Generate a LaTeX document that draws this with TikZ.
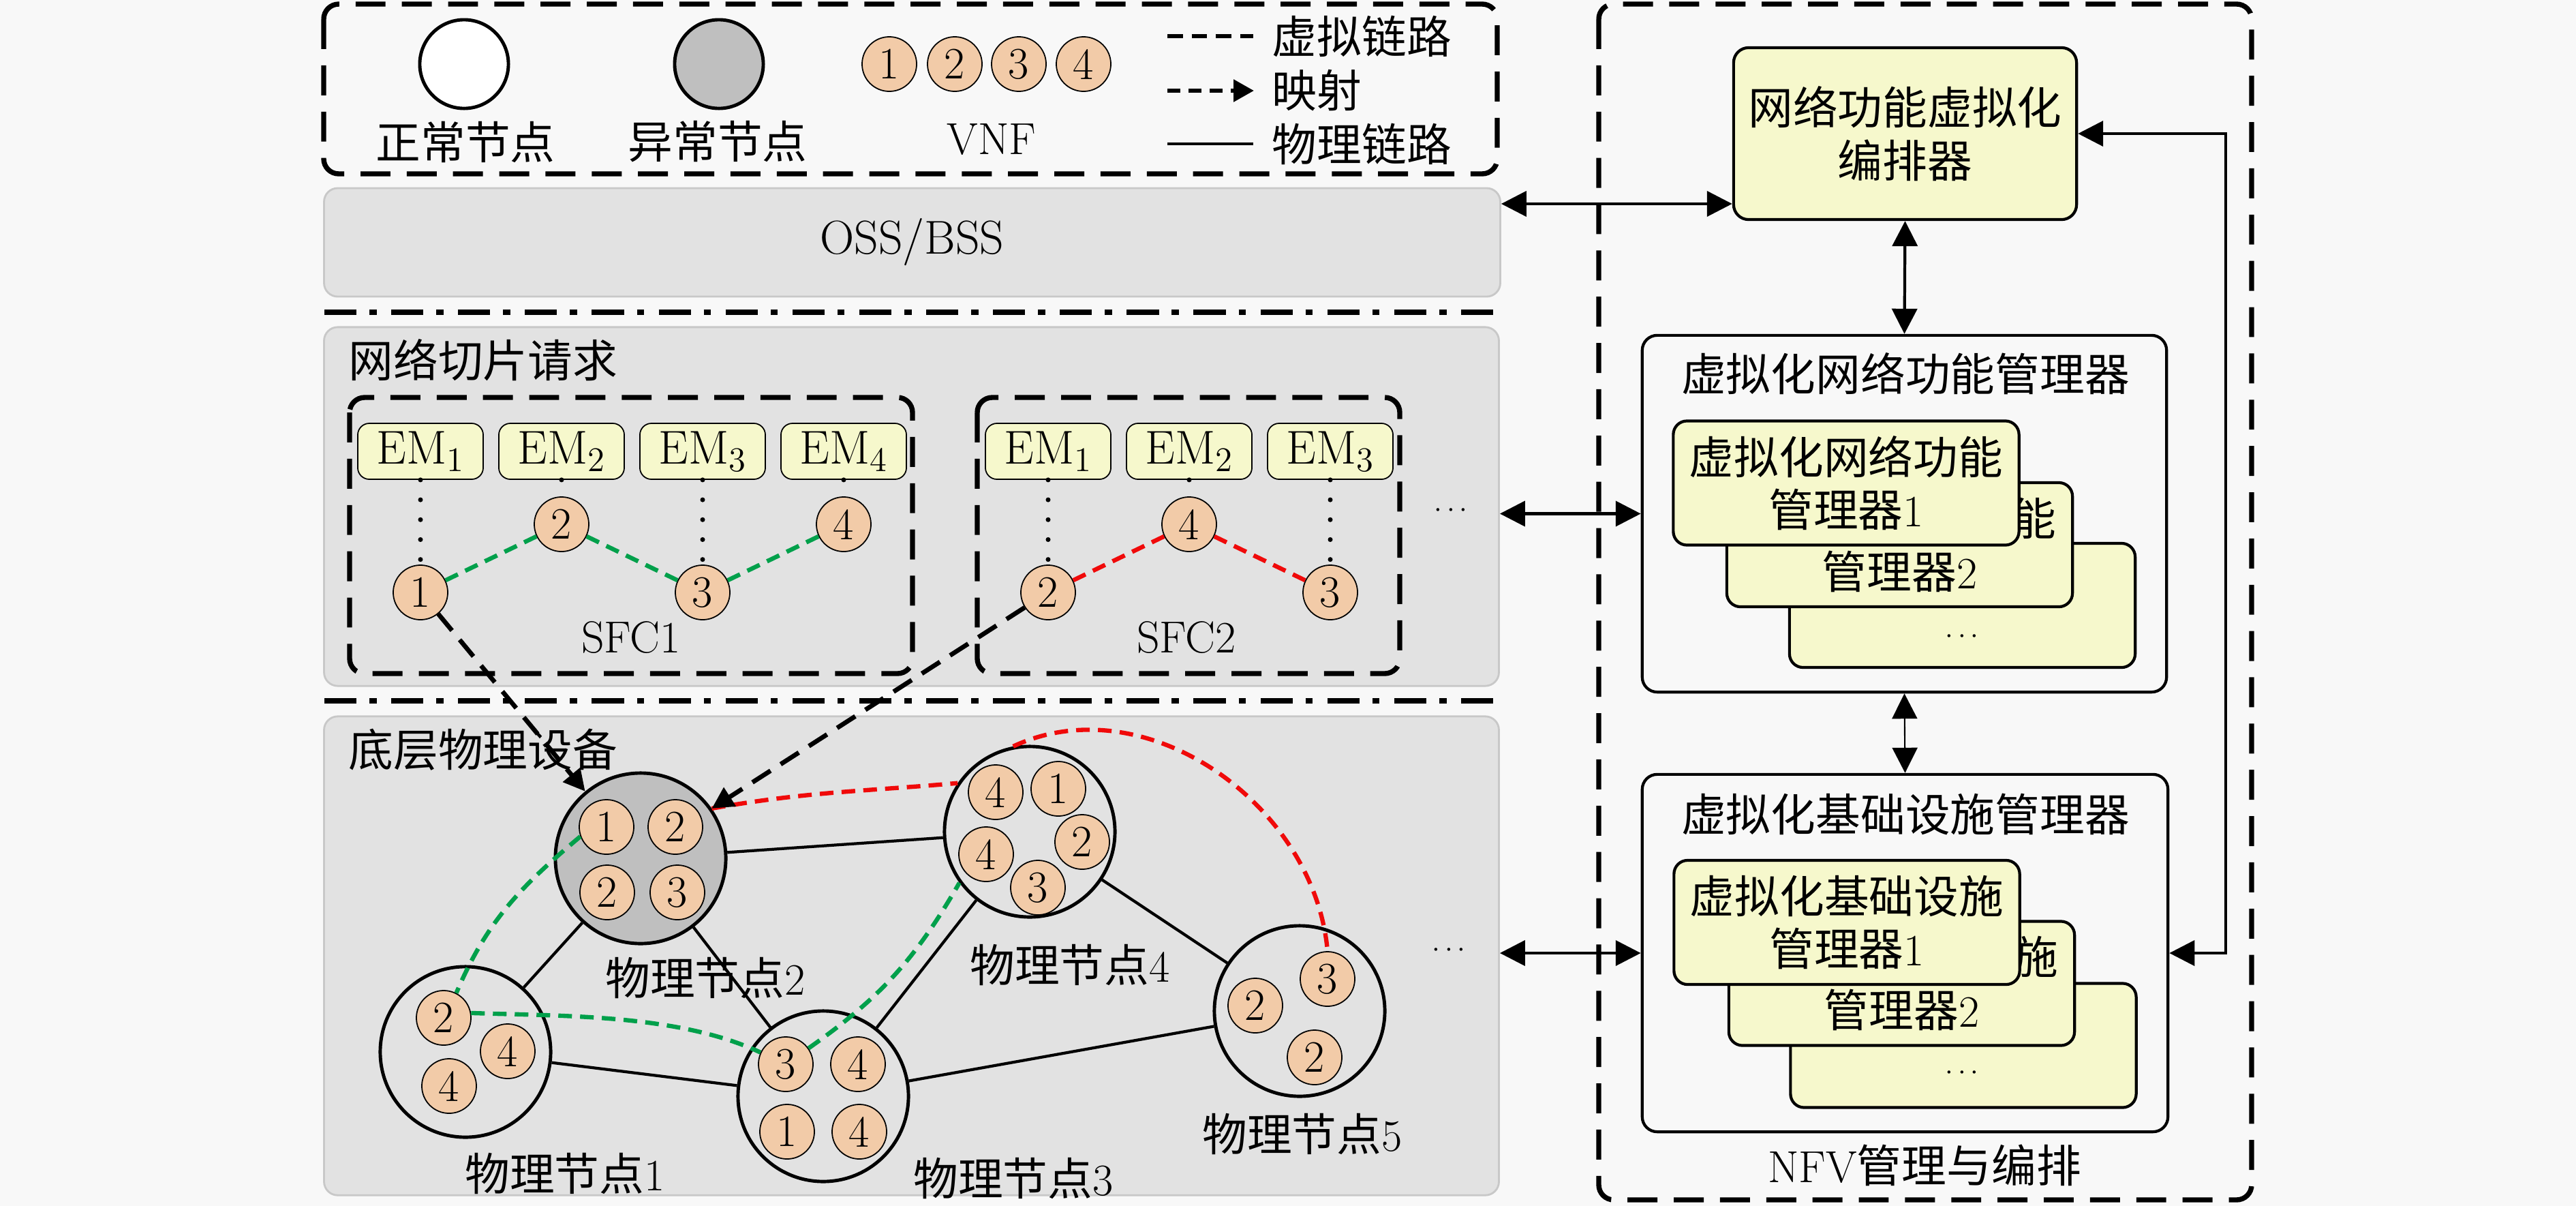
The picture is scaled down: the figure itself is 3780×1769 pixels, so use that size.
\documentclass[tikz,border=0pt]{standalone}
\usepackage{fontspec}
\newfontfamily\cjk{Noto Sans CJK SC}
\usetikzlibrary{arrows.meta}
\definecolor{bg}{RGB}{248,248,248}
\definecolor{panelc}{RGB}{226,226,226}
\definecolor{panelb}{RGB}{200,200,200}
\definecolor{vnfc}{RGB}{242,203,168}
\definecolor{yel}{RGB}{246,248,204}
\definecolor{gnode}{RGB}{191,191,191}
\definecolor{vgreen}{RGB}{0,160,75}
\definecolor{vred}{RGB}{240,10,10}
\newcommand{\zhs}[1]{{\cjk #1}}
\newcommand{\smdots}{{\fontsize{13}{15}\selectfont$\cdots$}}
\begin{document}
\begin{tikzpicture}[x=0.01cm, y=0.01cm,
  every node/.style={font=\fontsize{18.7}{22}\selectfont, inner sep=0pt},
  vnf/.style={circle, draw=black, line width=0.5pt, fill=vnfc, minimum size=0.8cm},
  pnode/.style={circle, draw=black, line width=1.4pt, minimum size=2.5cm},
  em/.style={draw=black, line width=0.5pt, rounded corners=0.17cm, fill=yel, minimum width=1.84cm, minimum height=0.82cm, font=\fontsize{19.8}{22}\selectfont},
  panel/.style={draw=panelb, line width=0.8pt, rounded corners=0.2cm, fill=panelc},
  dbox/.style={draw=black, line width=2.1pt, rounded corners=0.22cm, dash pattern=on 12.5pt off 6.8pt},
  sepline/.style={line width=2pt, dash pattern=on 13.4pt off 5.4pt on 3pt off 6.1pt},
  vlink/.style={line width=1.8pt, dash pattern=on 5.7pt off 3.4pt},
  emdot/.style={line width=2pt, line cap=round, dash pattern=on 0pt off 8.3pt},
  maparrow/.style={line width=1.9pt, dash pattern=on 9pt off 5pt, -{Triangle[length=9pt,width=9pt]}},
  plink/.style={line width=1.2pt},
  sbox/.style={draw=black, line width=1.2pt, rounded corners=0.2cm, fill=yel, align=center, minimum width=5.07cm, minimum height=1.82cm},
  obox/.style={draw=black, line width=1.2pt, rounded corners=0.22cm, fill=bg},
  dar/.style={line width=1.2pt, {Triangle[length=10.5pt,width=10.5pt]}-{Triangle[length=10.5pt,width=10.5pt]}},
]
\useasboundingbox (0,0) rectangle (3780,-1769);
\fill[bg] (0,0) rectangle (3780,-1769);

% ---------- legend ----------
\draw[dbox] (475,-6) rectangle (2197,-255);
\node[circle, draw=black, line width=1.4pt, fill=white, minimum size=1.3cm] (lgn) at (681,-94) {};
\node[circle, draw=black, line width=1.4pt, fill=gnode, minimum size=1.3cm] (lga) at (1055,-94) {};
\node (lgnt) at (683,-208) {\zhs{正常节点}};
\node (lgat) at (1053,-208) {\zhs{异常节点}};
\node[vnf] (lg1) at (1305,-94) {1};
\node[vnf] (lg2) at (1401,-94) {2};
\node[vnf] (lg3) at (1495,-94) {3};
\node[vnf] (lg4) at (1590,-94) {4};
\node (lgvt) at (1455,-205) {VNF};
\coordinate (l1a) at (1713,-53);
\coordinate (l1b) at (1839,-53);
\coordinate (l2a) at (1713,-133);
\coordinate (l2b) at (1840,-133);
\coordinate (l3a) at (1713,-211);
\coordinate (l3b) at (1839,-211);
\draw[line width=1.8pt, dash pattern=on 6.5pt off 3.6pt] (l1a) -- (l1b);
\draw[line width=1.8pt, dash pattern=on 5.5pt off 3.3pt, -{Triangle[length=8.5pt,width=9pt]}] (l2a) -- (l2b);
\draw[line width=1.2pt] (l3a) -- (l3b);
\node[anchor=west] (l1t) at (1866,-53) {\zhs{虚拟链路}};
\node[anchor=west] (l2t) at (1866,-133) {\zhs{映射}};
\node[anchor=west] (l3t) at (1866,-211) {\zhs{物理链路}};

% ---------- OSS/BSS ----------
\node[panel, minimum width=17.25cm, minimum height=1.59cm, font=\fontsize{19.8}{22}\selectfont] (oss) at (1338.5,-355.5) {OSS/BSS};
\draw[sepline] (476,-458) -- (2201,-458);

% ---------- slicing requests ----------
\node[panel, minimum width=17.23cm, minimum height=5.26cm] (sl) at (1337.5,-743) {};
\node[anchor=west] (slt) at (511,-528) {\zhs{网络切片请求}};
\draw[dbox] (513,-583) rectangle (1339,-988);
\draw[dbox] (1434,-583) rectangle (2054,-988);
\node[em] (e11) at (617,-662) {$\mathrm{EM}_1$};
\node[em] (e12) at (824,-662) {$\mathrm{EM}_2$};
\node[em] (e13) at (1031,-662) {$\mathrm{EM}_3$};
\node[em] (e14) at (1238,-662) {$\mathrm{EM}_4$};
\node[em] (e21) at (1538,-662) {$\mathrm{EM}_1$};
\node[em] (e22) at (1745,-662) {$\mathrm{EM}_2$};
\node[em] (e23) at (1952,-662) {$\mathrm{EM}_3$};
\node[vnf] (s1v1) at (617,-869) {1};
\node[vnf] (s1v2) at (824,-769) {2};
\node[vnf] (s1v3) at (1031,-869) {3};
\node[vnf] (s1v4) at (1238,-769) {4};
\node[vnf] (s2v2) at (1538,-869) {2};
\node[vnf] (s2v4) at (1745,-769) {4};
\node[vnf] (s2v3) at (1952,-869) {3};
\draw[emdot] (e11.south) -- (s1v1.north);
\draw[emdot] (e12.south) -- (s1v2.north);
\draw[emdot] (e13.south) -- (s1v3.north);
\draw[emdot] (e14.south) -- (s1v4.north);
\draw[emdot] (e21.south) -- (s2v2.north);
\draw[emdot] (e22.south) -- (s2v4.north);
\draw[emdot] (e23.south) -- (s2v3.north);
\draw[vlink, vgreen] (s1v1) -- (s1v2) -- (s1v3) -- (s1v4);
\draw[vlink, vred] (s2v2) -- (s2v4) -- (s2v3);
\node (sfc1) at (926,-935) {SFC1};
\node (sfc2) at (1741,-935) {SFC2};
\node (dots1) at (2129,-749) {\smdots};

\draw[sepline] (476,-1028) -- (2201,-1028);

% ---------- physical layer ----------
\node[panel, minimum width=17.23cm, minimum height=7.02cm] (ph) at (1337.5,-1402) {};
\node[anchor=west] (pht) at (511,-1100) {\zhs{底层物理设备}};
\node[pnode, fill=gnode] (p2) at (940,-1259) {};
\node[pnode] (p4) at (1511,-1220) {};
\node[pnode] (p1) at (683,-1543) {};
\node[pnode] (p3) at (1208,-1608) {};
\node[pnode] (p5) at (1907,-1483) {};
\draw[plink] (p2) -- (p4);
\draw[plink] (p2) -- (p1);
\draw[plink] (p2) -- (p3);
\draw[plink] (p1) -- (p3);
\draw[plink] (p4) -- (p3);
\draw[plink] (p4) -- (p5);
\draw[plink] (p3) -- (p5);
\node[vnf] (p2a) at (890,-1213) {1};
\node[vnf] (p2b) at (991,-1213) {2};
\node[vnf] (p2c) at (891,-1309) {2};
\node[vnf] (p2d) at (994,-1309) {3};
\node[vnf] (p4a) at (1461,-1162) {4};
\node[vnf] (p4b) at (1553,-1157) {1};
\node[vnf] (p4c) at (1447,-1253) {4};
\node[vnf] (p4d) at (1588,-1235) {2};
\node[vnf] (p4e) at (1523,-1302) {3};
\node[vnf] (p1a) at (651,-1493) {2};
\node[vnf] (p1b) at (745,-1542) {4};
\node[vnf] (p1c) at (659,-1593) {4};
\node[vnf] (p3a) at (1153,-1561) {3};
\node[vnf] (p3b) at (1259,-1561) {4};
\node[vnf] (p3c) at (1155,-1660) {1};
\node[vnf] (p3d) at (1261,-1660) {4};
\node[vnf] (p5a) at (1948,-1436) {3};
\node[vnf] (p5b) at (1842,-1475) {2};
\node[vnf] (p5c) at (1929,-1551) {2};
\node (p2t) at (1035,-1434) {\zhs{物理节点}2};
\node (p4t) at (1570,-1415) {\zhs{物理节点}4};
\node (p1t) at (829,-1721) {\zhs{物理节点}1};
\node (p3t) at (1487,-1728) {\zhs{物理节点}3};
\node (p5t) at (1911,-1663) {\zhs{物理节点}5};
\draw[vlink, vgreen] (p2a.200) to[out=220,in=67] (p1a.63);
\draw[vlink, vgreen] (p1a.10) to[out=-2,in=155,looseness=0.8] (p3a.155);
\draw[vlink, vgreen] (p3a.35) to[out=35,in=240] (p4.216);
\draw[vlink, vred] (p2.35) to[out=10,in=185] (p4.146);
\draw[vlink, vred] (p4.101) to[out=25,in=95] (p5a.north);
\node (dots2) at (2126,-1394) {\smdots};

% mapping arrows
\draw[maparrow] (s1v1) -- (p2);
\draw[maparrow] (s2v2) -- (p2.35);

% ---------- NFV MANO ----------
\draw[dbox] (2346,-6) rectangle (3304,-1760);
\node[obox, fill=yel, minimum width=5.03cm, minimum height=2.52cm, align=center] (nfvo) at (2795.5,-196) {\zhs{网络功能虚拟化}\\\zhs{编排器}};
\node[obox, minimum width=7.69cm, minimum height=5.23cm] (vnfm) at (2794.5,-753.5) {};
\node (vnfmt) at (2796,-548) {\zhs{虚拟化网络功能管理器}};
\node[sbox] (vf3) at (2879.5,-888) {};
\node[sbox] (vf2) at (2787.5,-799) {\zhs{虚拟化网络功能}\\\zhs{管理器}2};
\node[sbox] (vf1) at (2709,-708.5) {\zhs{虚拟化网络功能}\\\zhs{管理器}1};
\node (vf3t) at (2879,-934) {\smdots};
\node[obox, minimum width=7.71cm, minimum height=5.24cm] (vim) at (2795.5,-1398) {};
\node (vimt) at (2796,-1194) {\zhs{虚拟化基础设施管理器}};
\node[sbox] (vi3) at (2881,-1533.5) {};
\node[sbox] (vi2) at (2790.5,-1442.5) {\zhs{虚拟化基础设施}\\\zhs{管理器}2};
\node[sbox] (vi1) at (2710,-1353) {\zhs{虚拟化基础设施}\\\zhs{管理器}1};
\node (vi3t) at (2879,-1574) {\smdots};
\node (manot) at (2824,-1709) {NFV\zhs{管理与编排}};

% arrows
\coordinate (ossa) at ([yshift=0.565cm]oss.east);
\draw[dar] (ossa) -- (ossa -| nfvo.west);
\draw[dar] (sl.east |- vnfm.west) -- (vnfm.west);
\draw[dar] (ph.east |- vim.west) -- (vim.west);
\draw[dar] (nfvo.south) -- (vnfm.north);
\draw[dar, line width=0.6pt] (vnfm.south) -- (vim.north);
\draw[dar] (nfvo.east) -- ++(217,0) |- (vim.east);
\end{tikzpicture}
\end{document}
